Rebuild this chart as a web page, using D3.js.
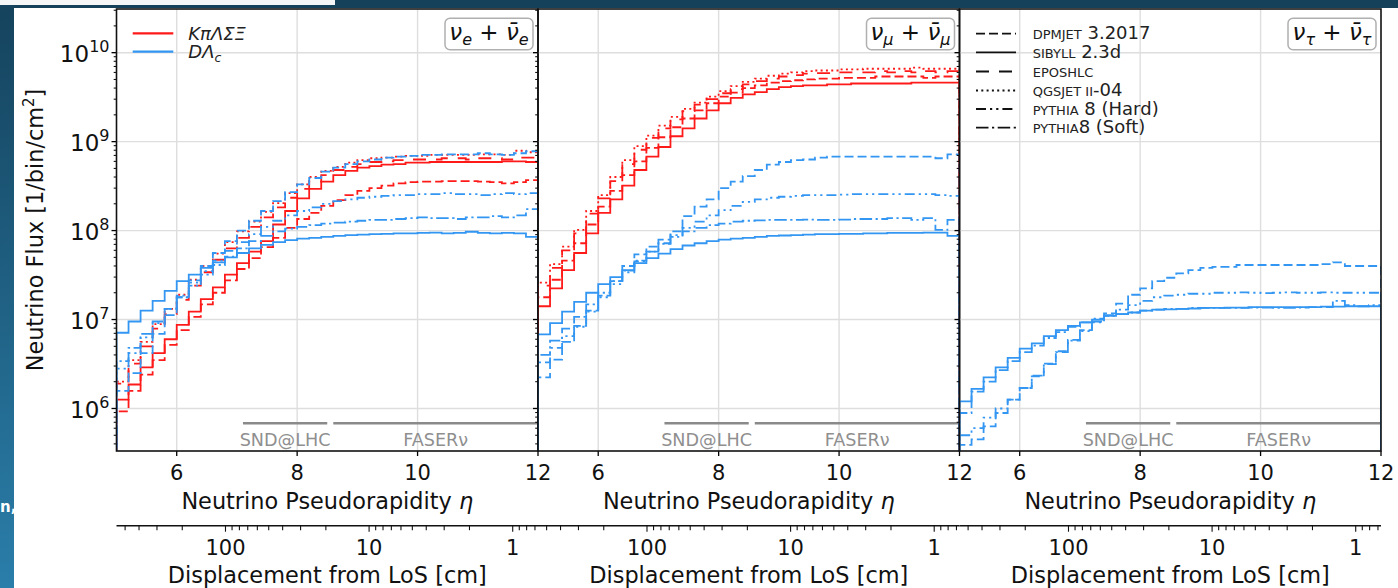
<!DOCTYPE html>
<html><head><meta charset="utf-8">
<script src="https://cdn.jsdelivr.net/npm/d3@7"></script>
<style>
html,body{margin:0;padding:0;background:#fff;}
svg{display:block;font-family:"DejaVu Sans",sans-serif;}
</style></head><body>
<svg id="c" width="1398" height="588"></svg>
<script>
// ---------------- DATA ----------------
const etaEdges = [5.0,5.2,5.4,5.6,5.8,6.0,6.2,6.4,6.6,6.8,7.0,7.2,7.4,7.6,7.8,8.0,8.2,8.4,8.6,8.8,9.0,9.2,9.4,9.6,9.8,10.0,10.2,10.4,10.6,10.8,11.0,11.2,11.4,11.6,11.8,12.0];
const xTicks = [6,8,10,12];
const yTicks = [1e6,1e7,1e8,1e9,1e10];
const dispTicksMajor = [100,10,1];
const panelTitles = ["e","μ","τ"];
const detectors = [
  {name:"SND@LHC", from:7.1, to:8.5},
  {name:"FASERν", from:8.6, to:12.0}
];

// nu_e + nubar_e : light hadrons (K pi Lambda Sigma Xi)
const nue_K_sibyll = [1.26e6,1.86e6,2.9e6,4.2e6,6.0e6,8.7e6,1.23e7,1.7e7,2.3e7,3.2e7,4.3e7,5.8e7,7.6e7,1.17e8,1.66e8,2.3e8,2.95e8,3.55e8,4.2e8,4.7e8,5.1e8,5.3e8,5.5e8,5.6e8,5.8e8,5.8e8,5.9e8,5.9e8,5.9e8,5.9e8,5.9e8,5.9e8,6.0e8,6.0e8,5.9e8];
const nue_K_dpmjet = [9.3e5,1.58e6,2.4e6,3.5e6,5.2e6,7.6e6,1.07e7,1.48e7,2.0e7,2.75e7,3.7e7,4.9e7,6.5e7,8.3e7,1.07e8,1.35e8,1.58e8,1.9e8,2.2e8,2.5e8,2.8e8,3.0e8,3.2e8,3.4e8,3.5e8,3.55e8,3.55e8,3.6e8,3.6e8,3.6e8,3.55e8,3.5e8,3.4e8,3.5e8,3.7e8];
const nue_K_epos = [1.9e6,3.2e6,5.0e6,7.9e6,1.15e7,1.66e7,2.4e7,3.4e7,4.7e7,6.3e7,8.3e7,1.1e8,1.41e8,1.82e8,2.34e8,2.95e8,3.55e8,4.2e8,4.8e8,5.2e8,5.6e8,5.9e8,6.0e8,6.2e8,6.3e8,6.3e8,6.3e8,6.5e8,6.5e8,6.3e8,6.5e8,6.5e8,6.3e8,6.6e8,6.6e8];
const nue_K_qgsjet = [2.0e6,3.5e6,5.6e6,8.9e6,1.32e7,1.9e7,2.8e7,4.0e7,5.5e7,7.4e7,9.8e7,1.26e8,1.62e8,2.04e8,2.63e8,3.3e8,4.0e8,4.7e8,5.2e8,5.8e8,6.2e8,6.5e8,6.6e8,6.8e8,6.9e8,6.9e8,7.1e8,7.1e8,7.1e8,7.1e8,7.2e8,7.2e8,7.1e8,7.9e8,7.6e8];
// nu_e + nubar_e : charm (D Lambda_c)
const nue_D_sibyll = [7.1e6,9.5e6,1.26e7,1.62e7,2.1e7,2.7e7,3.2e7,3.8e7,4.4e7,5.0e7,5.6e7,6.3e7,6.9e7,7.4e7,7.8e7,8.1e7,8.3e7,8.5e7,8.7e7,8.9e7,9.0e7,9.1e7,9.2e7,9.3e7,9.3e7,9.4e7,9.5e7,9.3e7,9.4e7,9.7e7,9.4e7,9.3e7,9.4e7,9.3e7,8.5e7];
const nue_D_dpmjet = [1.58e6,2.5e6,4.2e6,6.9e6,1.12e7,1.78e7,2.75e7,4.0e7,5.6e7,7.6e7,1.0e8,1.29e8,1.66e8,2.14e8,2.7e8,3.3e8,3.9e8,4.6e8,5.1e8,5.6e8,6.0e8,6.3e8,6.6e8,6.8e8,6.9e8,7.1e8,7.1e8,7.2e8,7.2e8,7.2e8,7.4e8,7.2e8,7.1e8,7.4e8,7.8e8];
const nue_D_pyhard = [2.8e6,4.2e6,6.3e6,9.1e6,1.32e7,1.86e7,2.6e7,3.5e7,4.6e7,5.9e7,7.4e7,9.1e7,1.10e8,1.29e8,1.48e8,1.66e8,1.82e8,2.0e8,2.14e8,2.24e8,2.34e8,2.4e8,2.45e8,2.51e8,2.51e8,2.57e8,2.57e8,2.63e8,2.57e8,2.57e8,2.51e8,2.57e8,2.63e8,2.57e8,2.63e8];
const nue_D_pysoft = [3.4e6,4.8e6,6.9e6,9.5e6,1.32e7,1.78e7,2.4e7,3.2e7,4.1e7,5.1e7,6.3e7,7.6e7,8.7e7,9.8e7,1.05e8,1.10e8,1.15e8,1.20e8,1.23e8,1.26e8,1.29e8,1.32e8,1.32e8,1.35e8,1.38e8,1.41e8,1.38e8,1.38e8,1.35e8,1.41e8,1.41e8,1.45e8,1.41e8,1.48e8,1.74e8];

// nu_mu + nubar_mu : light hadrons
const numu_K_sibyll = [1.41e7,2.24e7,3.6e7,5.6e7,9.3e7,1.58e8,2.24e8,3.2e8,4.8e8,6.8e8,8.7e8,1.15e9,1.41e9,1.82e9,2.24e9,2.7e9,3.1e9,3.4e9,3.6e9,3.9e9,4.1e9,4.2e9,4.3e9,4.3e9,4.4e9,4.4e9,4.5e9,4.5e9,4.5e9,4.5e9,4.5e9,4.6e9,4.6e9,4.6e9,4.6e9];
const numu_K_dpmjet = [1.78e7,2.8e7,4.6e7,7.2e7,1.17e8,1.86e8,2.8e8,4.2e8,6.0e8,8.5e8,1.12e9,1.45e9,1.82e9,2.24e9,2.7e9,3.2e9,3.55e9,4.0e9,4.3e9,4.6e9,4.8e9,4.9e9,5.0e9,5.1e9,5.1e9,5.2e9,5.2e9,5.2e9,5.4e9,5.4e9,5.4e9,5.4e9,5.2e9,5.4e9,5.4e9];
const numu_K_epos = [2.4e7,3.8e7,6.0e7,9.3e7,1.55e8,2.3e8,3.6e8,5.6e8,8.1e8,1.1e9,1.41e9,1.78e9,2.2e9,2.6e9,3.0e9,3.5e9,3.9e9,4.4e9,4.8e9,5.1e9,5.4e9,5.6e9,5.8e9,5.9e9,5.9e9,6.0e9,6.0e9,6.0e9,6.2e9,6.0e9,6.2e9,6.0e9,6.2e9,6.0e9,6.2e9];
const numu_K_qgsjet = [2.6e7,4.2e7,6.6e7,1.02e8,1.66e8,2.5e8,4.0e8,6.2e8,8.9e8,1.17e9,1.51e9,1.9e9,2.34e9,2.75e9,3.2e9,3.7e9,4.2e9,4.7e9,5.1e9,5.5e9,5.8e9,6.0e9,6.2e9,6.3e9,6.3e9,6.5e9,6.5e9,6.6e9,6.6e9,6.6e9,6.6e9,6.8e9,6.6e9,6.6e9,6.6e9];
// nu_mu + nubar_mu : charm
const numu_D_sibyll = [6.8e6,9.1e6,1.23e7,1.58e7,2.0e7,2.5e7,3.0e7,3.6e7,4.3e7,4.9e7,5.5e7,6.2e7,6.8e7,7.2e7,7.6e7,7.9e7,8.1e7,8.3e7,8.5e7,8.7e7,8.8e7,8.9e7,9.0e7,9.1e7,9.1e7,9.2e7,9.2e7,9.3e7,9.3e7,9.4e7,9.4e7,9.4e7,9.5e7,9.5e7,8.7e7];
const numu_D_dpmjet = [2.24e6,3.55e6,5.6e6,8.5e6,1.26e7,1.86e7,2.7e7,4.0e7,5.4e7,6.6e7,7.9e7,9.8e7,1.45e8,1.86e8,2.24e8,3.0e8,3.55e8,4.1e8,4.8e8,5.5e8,5.9e8,6.2e8,6.3e8,6.6e8,6.8e8,6.8e8,6.8e8,6.8e8,6.8e8,6.8e8,6.8e8,6.8e8,6.8e8,6.5e8,7.2e8];
const numu_D_pyhard = [3.3e6,4.8e6,6.5e6,8.3e6,1.23e7,1.78e7,2.5e7,3.4e7,4.5e7,5.8e7,7.2e7,8.9e7,1.07e8,1.26e8,1.48e8,1.7e8,1.9e8,2.1e8,2.24e8,2.34e8,2.4e8,2.45e8,2.5e8,2.51e8,2.51e8,2.54e8,2.57e8,2.57e8,2.57e8,2.57e8,2.57e8,2.57e8,2.57e8,2.51e8,2.45e8];
const numu_D_pysoft = [4.0e6,5.8e6,7.9e6,1.07e7,1.48e7,2.0e7,2.7e7,3.55e7,4.6e7,5.8e7,7.1e7,8.5e7,9.8e7,1.07e8,1.15e8,1.2e8,1.26e8,1.29e8,1.3e8,1.32e8,1.32e8,1.32e8,1.33e8,1.32e8,1.32e8,1.33e8,1.35e8,1.35e8,1.35e8,1.38e8,1.38e8,1.32e8,1.38e8,1.02e8,1.32e8];

// nu_tau + nubar_tau : charm only
const nutau_D_sibyll = [1.2e6,1.66e6,2.24e6,2.9e6,3.7e6,4.7e6,5.4e6,6.5e6,7.6e6,8.5e6,9.3e6,1.0e7,1.1e7,1.15e7,1.2e7,1.26e7,1.29e7,1.3e7,1.32e7,1.33e7,1.35e7,1.35e7,1.36e7,1.36e7,1.38e7,1.38e7,1.38e7,1.38e7,1.38e7,1.38e7,1.4e7,1.4e7,1.41e7,1.41e7,1.41e7];
const nutau_D_dpmjet = [3.9e5,4.5e5,6.3e5,8.9e5,1.26e6,1.7e6,2.3e6,3.2e6,4.4e6,5.9e6,7.6e6,9.5e6,1.17e7,1.51e7,1.9e7,2.24e7,2.7e7,2.95e7,3.3e7,3.6e7,3.8e7,3.9e7,3.9e7,4.1e7,4.1e7,4.1e7,4.1e7,4.1e7,4.1e7,4.1e7,4.2e7,4.4e7,4.0e7,4.0e7,4.0e7];
const nutau_D_pyhard = [5.0e5,6.0e5,7.9e5,1.0e6,1.26e6,1.7e6,2.34e6,3.16e6,4.3e6,5.8e6,7.4e6,9.3e6,1.12e7,1.29e7,1.45e7,1.62e7,1.78e7,1.86e7,1.9e7,1.95e7,1.95e7,2.0e7,2.0e7,2.02e7,2.0e7,1.98e7,2.0e7,2.02e7,2.0e7,2.0e7,2.02e7,2.0e7,2.0e7,2.0e7,2.0e7];
const nutau_D_pysoft = [8.9e5,1.55e6,2.0e6,2.7e6,3.4e6,4.3e6,5.1e6,6.2e6,7.2e6,8.3e6,9.3e6,1.02e7,1.1e7,1.15e7,1.2e7,1.26e7,1.29e7,1.32e7,1.32e7,1.35e7,1.35e7,1.35e7,1.35e7,1.35e7,1.36e7,1.36e7,1.35e7,1.35e7,1.36e7,1.38e7,1.38e7,1.62e7,1.45e7,1.41e7,1.45e7];

// ---------------- STYLE / LAYOUT ----------------
const RED = "#ff1a1a", BLUE = "#3396f2";
const dash = {DPMJET:"9,4", SIBYLL:null, EPOSHLC:"13,10", QGSJET:"2,3.3", PYTHIAhard:"10,4,2.2,4,2.2,4", PYTHIAsoft:"12.5,3.5,2.2,3.5"};
const panelSeries = [
  [ ["K","DPMJET",nue_K_dpmjet],["K","SIBYLL",nue_K_sibyll],["K","EPOSHLC",nue_K_epos],["K","QGSJET",nue_K_qgsjet],
    ["D","DPMJET",nue_D_dpmjet],["D","SIBYLL",nue_D_sibyll],["D","PYTHIAhard",nue_D_pyhard],["D","PYTHIAsoft",nue_D_pysoft] ],
  [ ["K","DPMJET",numu_K_dpmjet],["K","SIBYLL",numu_K_sibyll],["K","EPOSHLC",numu_K_epos],["K","QGSJET",numu_K_qgsjet],
    ["D","DPMJET",numu_D_dpmjet],["D","SIBYLL",numu_D_sibyll],["D","PYTHIAhard",numu_D_pyhard],["D","PYTHIAsoft",numu_D_pysoft] ],
  [ ["D","DPMJET",nutau_D_dpmjet],["D","SIBYLL",nutau_D_sibyll],["D","PYTHIAhard",nutau_D_pyhard],["D","PYTHIAsoft",nutau_D_pysoft] ]
];

const PW = 421.5, TOP = 9, BOT = 451;
const panelX0 = [116.5, 538, 959.5];
const svg = d3.select("#c");

// slide background pieces
const defs = svg.append("defs");
const lg = defs.append("linearGradient").attr("id","lstrip").attr("x1",0).attr("y1",0).attr("x2",0).attr("y2",1);
lg.append("stop").attr("offset","0%").attr("stop-color","#15435d");
lg.append("stop").attr("offset","100%").attr("stop-color","#2a7eaa");
svg.append("rect").attr("width",1398).attr("height",588).attr("fill","#fff");
svg.append("rect").attr("x",0).attr("y",0).attr("width",1398).attr("height",8).attr("fill","#15415a");
svg.append("rect").attr("x",0).attr("y",0).attr("width",335).attr("height",5).attr("fill","#f4f6f8");
svg.append("rect").attr("x",0).attr("y",5).attr("width",14).attr("height",583).attr("fill","url(#lstrip)");
svg.append("text").attr("x",0).attr("y",512).attr("fill","#fff").attr("font-size",15).attr("font-weight","bold").text("n,");

const y = d3.scaleLog().domain([Math.pow(10,5.522), Math.pow(10,10.491)]).range([BOT, TOP]);

panelX0.forEach((x0, pi) => {
  const x = d3.scaleLinear().domain([etaEdges[0], etaEdges[etaEdges.length-1]]).range([x0, x0+PW]);
  const g = svg.append("g");
  const cid = "clip"+pi;
  defs.append("clipPath").attr("id",cid).append("rect").attr("x",x0).attr("y",TOP).attr("width",PW).attr("height",BOT-TOP);

  // grid
  g.selectAll(null).data(xTicks.filter(t=>t<12)).enter().append("line")
    .attr("x1",d=>x(d)).attr("x2",d=>x(d)).attr("y1",TOP).attr("y2",BOT)
    .attr("stroke","#dedede").attr("stroke-width",1.4);
  g.selectAll(null).data(yTicks).enter().append("line")
    .attr("x1",x0).attr("x2",x0+PW).attr("y1",d=>y(d)).attr("y2",d=>y(d))
    .attr("stroke","#dedede").attr("stroke-width",1.4);

  // detector ranges
  const dy = 423.3;
  detectors.forEach(dd => {
    g.append("line").attr("x1",x(dd.from)).attr("x2",x(dd.to)).attr("y1",dy).attr("y2",dy)
      .attr("stroke","#8a8a8a").attr("stroke-width",2.6);
    g.append("text").attr("x",(x(dd.from)+x(dd.to))/2).attr("y",446).attr("text-anchor","middle")
      .attr("font-size",17.6).attr("fill","#8f8f8f").text(dd.name);
  });

  // histograms
  const lineGen = d3.line().curve(d3.curveStepAfter);
  const dg = g.append("g").attr("clip-path",`url(#${cid})`);
  panelSeries[pi].forEach(([fam, gen, vals]) => {
    const pts = [[x(etaEdges[0]), BOT+10]];
    vals.forEach((v,i)=>pts.push([x(etaEdges[i]), y(v)]));
    pts.push([x(etaEdges[vals.length]), y(vals[vals.length-1])]);
    pts.push([x(etaEdges[vals.length]), BOT+10]);
    dg.append("path").attr("d", lineGen(pts)).attr("fill","none")
      .attr("stroke", fam==="K"?RED:BLUE).attr("stroke-width",1.8)
      .attr("stroke-dasharray", dash[gen]);
  });

  // y axis ticks (major + minor), outward
  const minors = [];
  for (let e=5; e<=10; e++) for (let m=2; m<=9; m++) { const v=m*Math.pow(10,e); if (y(v)>=TOP && y(v)<=BOT) minors.push(v); }
  g.selectAll(null).data(yTicks).enter().append("line")
    .attr("x1",x0-5).attr("x2",x0).attr("y1",d=>y(d)).attr("y2",d=>y(d)).attr("stroke","#000").attr("stroke-width",1.3);
  g.selectAll(null).data(minors).enter().append("line")
    .attr("x1",x0-2.8).attr("x2",x0).attr("y1",d=>y(d)).attr("y2",d=>y(d)).attr("stroke","#000").attr("stroke-width",1);

  // x axis ticks
  g.selectAll(null).data(xTicks).enter().append("line")
    .attr("x1",d=>x(d)).attr("x2",d=>x(d)).attr("y1",BOT).attr("y2",BOT+5).attr("stroke","#000").attr("stroke-width",1.3);
  g.selectAll(null).data(xTicks).enter().append("text")
    .attr("x",d=>x(d)).attr("y",480).attr("text-anchor","middle").attr("font-size",21).attr("fill","#111").text(d=>d);

  // frame
  g.append("rect").attr("x",x0).attr("y",TOP).attr("width",PW).attr("height",BOT-TOP)
    .attr("fill","none").attr("stroke","#111").attr("stroke-width",1.6);

  // x label
  const xl = g.append("text").attr("x",x0+PW/2).attr("y",509).attr("text-anchor","middle").attr("font-size",22.4).attr("fill","#111");
  xl.append("tspan").text("Neutrino Pseudorapidity ");
  xl.append("tspan").attr("font-style","italic").text("η");

  // title box
  const bw = 88, bh = 31.5, bx = x0+PW-bw-5, by = 18.3;
  g.append("rect").attr("x",bx).attr("y",by).attr("width",bw).attr("height",bh).attr("rx",5)
    .attr("fill","#fff").attr("stroke","#b0b0b0").attr("stroke-width",1.5);
  const tt = g.append("text").attr("x",bx+bw/2).attr("y",by+22).attr("text-anchor","middle").attr("font-size",23).attr("fill","#111");
  tt.append("tspan").attr("font-style","italic").text("ν");
  tt.append("tspan").attr("font-style","italic").attr("font-size",16).attr("dy",5).text(panelTitles[pi]);
  tt.append("tspan").attr("dy",-5).text(" + ");
  tt.append("tspan").attr("font-style","italic").text("ν\u0304");
  tt.append("tspan").attr("font-style","italic").attr("font-size",16).attr("dy",5).text(panelTitles[pi]);

  // secondary axis: displacement from line of sight (cm)
  const rAt = eta => Math.pow(10, (11.58 - eta)/2.385);
  const r = d3.scaleLog().domain([rAt(5), rAt(12)]).range([x0, x0+PW]);
  const ay = 525.7;
  g.append("line").attr("x1",x0).attr("x2",x0+PW).attr("y1",ay).attr("y2",ay).attr("stroke","#111").attr("stroke-width",1.6);
  const rt = r.ticks().filter(t => t>=r.domain()[1] && t<=r.domain()[0]);
  g.selectAll(null).data(rt).enter().append("line")
    .attr("x1",d=>r(d)).attr("x2",d=>r(d)).attr("y1",ay).attr("y2",d=>dispTicksMajor.includes(d)?ay+6:ay+4.5)
    .attr("stroke","#111").attr("stroke-width",1.1);
  g.selectAll(null).data(dispTicksMajor).enter().append("text")
    .attr("x",d=>r(d)).attr("y",555).attr("text-anchor","middle").attr("font-size",21).attr("fill","#111").text(d=>d);
  g.append("text").attr("x",x0+PW/2).attr("y",583).attr("text-anchor","middle").attr("font-size",22.4).attr("fill","#111")
    .text("Displacement from LoS [cm]");

  // y tick labels on first panel
  if (pi===0) {
    yTicks.forEach(v => {
      const t = g.append("text").attr("x",x0-7).attr("y",y(v)+9.3).attr("text-anchor","end").attr("font-size",23).attr("fill","#111");
      t.append("tspan").text("10");
      t.append("tspan").attr("font-size",16).attr("dy",-9.5).text(Math.round(Math.log10(v)));
    });
    const yl = g.append("text").attr("transform",`translate(43,230) rotate(-90)`).attr("text-anchor","middle").attr("font-size",22.4).attr("fill","#111");
    yl.append("tspan").text("Neutrino Flux [1/bin/cm");
    yl.append("tspan").attr("font-size",15).attr("dy",-9).text("2");
    yl.append("tspan").attr("dy",9).text("]");
    // hadron legend
    const lx0 = 132.7, lx1 = 173.3;
    [[RED,33.3,"K\u03C0\u039B\u03A3\u039E",null],[BLUE,51.7,"D\u039B","c"]].forEach(([c,ly,lab,sub])=>{
      g.append("line").attr("x1",lx0).attr("x2",lx1).attr("y1",ly).attr("y2",ly).attr("stroke",c).attr("stroke-width",2.2);
      const t = g.append("text").attr("x",188.3).attr("y",ly+6.5).attr("font-size",18).attr("font-style","italic").attr("fill","#222");
      t.append("tspan").text(lab);
      if (sub) t.append("tspan").attr("font-size",12.5).attr("dy",3.5).text(sub);
    });
  }
  // generator legend on third panel
  if (pi===2) {
    const rows = [
      ["DPMJET",[["DPMJET",13]," 3.2017"]],
      ["SIBYLL",[["SIBYLL",13]," 2.3d"]],
      ["EPOSHLC",[["EPOSHLC",13]]],
      ["QGSJET",[["QGSJET II",13],"-04"]],
      ["PYTHIAhard",[["PYTHIA",13]," 8 (Hard)"]],
      ["PYTHIAsoft",[["PYTHIA",13],"8 (Soft)"]]
    ];
    const rowY = [33.7,52.3,71.5,90.5,109,127.6];
    rows.forEach(([gen,parts],i)=>{
      g.append("line").attr("x1",976).attr("x2",1016).attr("y1",rowY[i]).attr("y2",rowY[i])
        .attr("stroke","#111").attr("stroke-width",1.8).attr("stroke-dasharray",dash[gen]);
      const t = g.append("text").attr("x",1032.7).attr("y",rowY[i]+5.6).attr("fill","#222");
      parts.forEach(p=>{
        if (Array.isArray(p)) t.append("tspan").attr("font-size",p[1]).text(p[0]);
        else t.append("tspan").attr("font-size",18).text(p);
      });
    });
  }
});
</script>
</body></html>
